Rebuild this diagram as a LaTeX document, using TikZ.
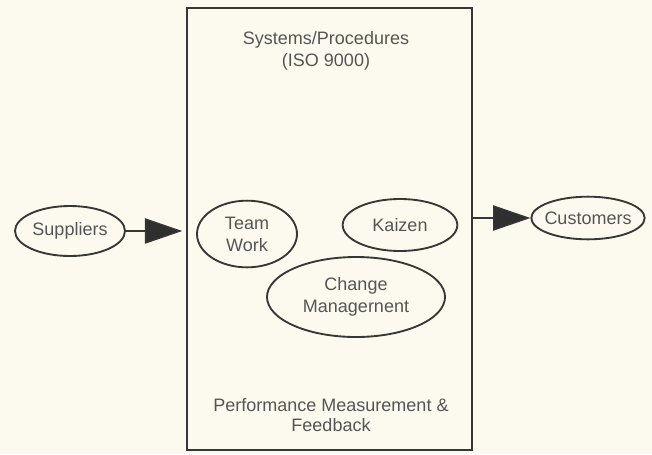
\documentclass[tikz,border=0pt]{standalone}
\usepackage{fontspec}
\setmainfont{Liberation Sans}
\usetikzlibrary{shapes.geometric,arrows.meta}
\definecolor{paper}{RGB}{252,250,238}
\definecolor{ink}{RGB}{55,55,55}
\definecolor{txt}{RGB}{85,85,85}
\tikzset{
  bubble/.style={ellipse, draw=ink, line width=1.4pt, inner sep=0pt,
    align=center, text=txt},
  label/.style={align=center, text=txt, inner sep=0pt},
  flow/.style={draw=ink, line width=1pt,
    -{Triangle[length=28pt,width=19pt,fill=ink!85!black]}},
  every node/.style={font=\fontsize{13.5}{16.5}\selectfont}
}
\begin{document}
\begin{tikzpicture}[x=0.75pt,y=-0.75pt]
  % paper
  \fill[paper] (0,0) rectangle (652,454);
  \useasboundingbox (0,0) rectangle (652,454);

  % the process frame
  \node[draw=ink, line width=1.1pt, minimum width=213.75pt, minimum height=331.5pt,
        inner sep=0pt] (frame) at (329.5,229) {};
  \node[label, font=\fontsize{13.5}{17}\selectfont] (sys) at (326,51) {Systems/Procedures\\(ISO 9000)};
  \node[label, font=\fontsize{13.5}{15}\selectfont] (perf) at (331,415) {Performance Measurement \&\\Feedback};

  % inner elements
  \node[bubble, minimum width=75pt, minimum height=50pt] (team) at (247,234) {Team\\Work};
  \node[bubble, minimum width=86pt, minimum height=39pt] (kaizen) at (400,225) {Kaizen};
  \node[bubble, minimum width=133.5pt, minimum height=60pt,
        font=\fontsize{13.5}{16}\selectfont] (change) at (356,297) {Change\\Managernent};

  % external parties
  \node[bubble, minimum width=82.5pt, minimum height=37.5pt, inner xsep=-3pt] (sup) at (70,231) {Suppliers};
  \node[bubble, minimum width=85pt, minimum height=32pt, inner xsep=-4.5pt] (cust) at (588,218) {Customers};

  % flows in and out
  \coordinate (inlet) at ([xshift=-3pt]frame.west |- sup.east);
  \draw[flow] (sup.east) -- (inlet);
  \draw[flow] (frame.east |- cust.west) -- (cust.west);
\end{tikzpicture}
\end{document}
